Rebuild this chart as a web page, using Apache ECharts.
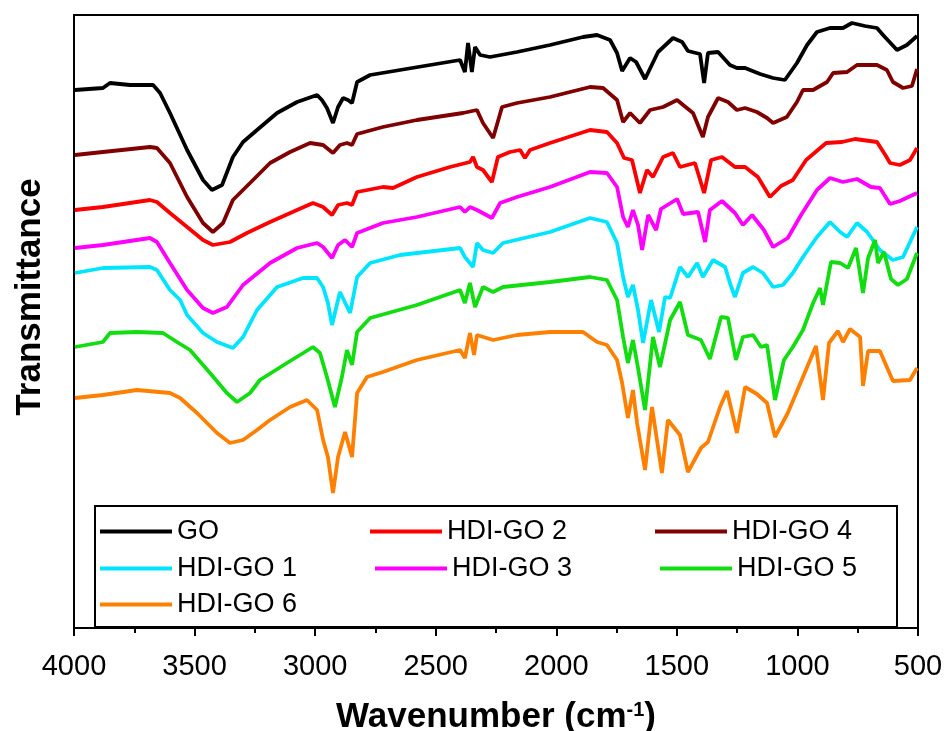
<!DOCTYPE html>
<html>
<head>
<meta charset="utf-8">
<title>FTIR spectra</title>
<script src="https://cdn.jsdelivr.net/npm/echarts@6/dist/echarts.min.js"></script>
<style>
  html, body { margin: 0; padding: 0; background: #fff; }
  #chart { width: 944px; height: 731px; }
</style>
</head>
<body>
<div id="chart"></div>
<script>
// wavenumber (cm-1), transmittance (a.u., offset curves)
const GO = [[3996,538],[3880,540],[3851,545],[3768,543],[3672,543],[3643,535],[3602,515],[3531,478],[3465,448],[3428,438],[3386,443],[3341,471],[3299,486],[3241,498],[3158,515],[3075,526],[2992,533],[2972,528],[2951,520],[2926,505],[2905,521],[2884,530],[2864,528],[2847,525],[2826,546],[2772,553],[2648,558],[2399,568],[2379,556],[2366,585],[2350,556],[2337,581],[2316,573],[2275,571],[2163,576],[2026,583],[1889,591],[1831,593],[1777,588],[1748,575],[1727,557],[1694,570],[1669,566],[1632,549],[1578,576],[1516,590],[1478,586],[1454,577],[1404,574],[1387,545],[1371,575],[1329,576],[1280,563],[1251,560],[1217,560],[1155,554],[1101,550],[1052,548],[1002,565],[960,583],[919,596],[865,600],[811,600],[774,605],[720,602],[670,600],[645,593],[587,578],[546,583],[504,592]];
const HDIGO2 = [[3996,418],[3880,421],[3685,428],[3656,426],[3602,415],[3531,401],[3465,388],[3424,383],[3353,386],[3283,395],[3187,406],[3075,418],[3009,425],[2967,421],[2930,413],[2905,423],[2868,425],[2847,423],[2826,436],[2719,441],[2677,440],[2578,451],[2441,461],[2358,466],[2345,471],[2329,461],[2304,458],[2267,446],[2242,471],[2192,476],[2150,478],[2130,470],[2109,478],[2026,485],[1860,498],[1790,496],[1748,485],[1719,470],[1686,468],[1653,435],[1624,458],[1599,451],[1557,471],[1516,475],[1487,461],[1425,465],[1387,435],[1358,468],[1313,471],[1259,461],[1217,461],[1164,451],[1114,431],[1068,442],[1019,448],[964,468],[881,485],[815,486],[761,489],[670,486],[633,472],[616,465],[575,463],[533,468],[504,480]];
const HDIGO4 = [[3996,473],[3880,476],[3685,481],[3656,480],[3602,465],[3531,431],[3465,405],[3424,396],[3382,405],[3341,428],[3270,445],[3187,465],[3104,476],[3021,485],[2967,483],[2926,475],[2897,483],[2868,485],[2847,483],[2826,494],[2719,501],[2578,508],[2387,515],[2329,518],[2304,505],[2262,490],[2225,521],[2163,525],[2026,531],[1860,541],[1806,540],[1748,528],[1723,506],[1694,515],[1653,505],[1611,518],[1557,521],[1499,528],[1474,523],[1433,515],[1392,491],[1371,511],[1329,530],[1288,526],[1251,518],[1217,520],[1168,516],[1126,510],[1101,505],[1044,511],[1002,526],[977,538],[935,538],[877,546],[852,555],[794,556],[753,563],[670,563],[629,558],[604,546],[562,540],[525,542],[504,559]];
const HDIGO1 = [[3996,355],[3880,360],[3685,361],[3656,358],[3602,338],[3560,328],[3531,313],[3465,295],[3407,286],[3341,280],[3299,291],[3241,318],[3158,341],[3050,350],[2992,350],[2967,341],[2947,325],[2930,303],[2897,336],[2855,315],[2826,351],[2772,365],[2648,373],[2399,380],[2379,371],[2345,361],[2329,385],[2304,378],[2262,375],[2221,385],[2026,396],[1860,410],[1790,406],[1748,385],[1723,351],[1703,331],[1682,343],[1661,318],[1640,285],[1607,328],[1574,296],[1549,331],[1528,330],[1487,361],[1454,351],[1416,365],[1392,351],[1350,368],[1300,361],[1280,345],[1259,331],[1226,355],[1184,361],[1143,355],[1101,341],[1060,343],[1019,355],[977,371],[919,391],[865,406],[823,396],[794,391],[753,405],[711,396],[658,378],[604,368],[562,371],[504,401]];
const HDIGO3 = [[3996,380],[3880,383],[3685,390],[3656,386],[3602,365],[3531,338],[3465,320],[3424,315],[3366,321],[3299,343],[3187,365],[3075,380],[2992,385],[2967,381],[2930,370],[2905,383],[2876,388],[2847,381],[2826,395],[2719,405],[2578,411],[2399,421],[2379,416],[2358,421],[2329,418],[2267,410],[2233,425],[2163,431],[2026,441],[1860,456],[1790,455],[1748,441],[1723,411],[1703,401],[1682,418],[1661,403],[1644,378],[1619,413],[1586,398],[1566,419],[1499,429],[1474,414],[1412,416],[1383,386],[1363,418],[1313,427],[1259,415],[1226,403],[1188,413],[1139,398],[1101,381],[1040,390],[985,413],[919,438],[865,450],[811,446],[753,449],[695,441],[658,440],[616,424],[575,427],[504,435]];
const HDIGO5 = [[3996,281],[3880,286],[3851,295],[3739,296],[3631,295],[3573,286],[3519,278],[3436,255],[3366,235],[3324,226],[3270,235],[3229,248],[3117,265],[3009,281],[2980,275],[2951,251],[2918,221],[2889,251],[2868,278],[2847,263],[2826,296],[2772,310],[2578,323],[2399,338],[2379,325],[2358,345],[2337,321],[2304,341],[2262,336],[2221,341],[2026,346],[1860,351],[1790,348],[1748,328],[1723,291],[1703,265],[1682,288],[1661,260],[1632,218],[1599,291],[1570,261],[1528,308],[1487,326],[1454,293],[1400,288],[1363,269],[1317,311],[1288,310],[1255,268],[1226,291],[1184,293],[1151,281],[1126,283],[1093,228],[1056,268],[1019,281],[977,298],[935,325],[906,340],[894,323],[861,366],[823,365],[790,360],[757,380],[728,335],[707,370],[678,388],[666,365],[641,376],[612,349],[583,343],[546,349],[504,375]];
const HDIGO6 = [[3996,230],[3880,233],[3739,238],[3602,235],[3560,230],[3490,215],[3407,195],[3353,185],[3299,188],[3241,198],[3187,208],[3104,221],[3034,228],[2992,218],[2967,188],[2947,171],[2926,135],[2905,171],[2876,196],[2847,171],[2826,235],[2785,251],[2719,256],[2578,268],[2399,278],[2379,270],[2358,295],[2341,273],[2329,293],[2262,288],[2163,293],[2026,296],[1889,296],[1831,286],[1790,283],[1748,268],[1727,245],[1703,210],[1682,238],[1665,205],[1632,158],[1603,221],[1562,155],[1537,208],[1487,193],[1454,156],[1400,180],[1371,186],[1321,221],[1292,237],[1251,195],[1217,241],[1168,234],[1126,225],[1093,191],[1040,215],[977,251],[923,282],[894,228],[869,285],[832,297],[811,286],[782,299],[740,291],[728,242],[707,277],[658,277],[604,247],[533,248],[504,260]];

const names = ['GO', 'HDI-GO 2', 'HDI-GO 4', 'HDI-GO 1', 'HDI-GO 3', 'HDI-GO 5', 'HDI-GO 6'];
const curves = [GO, HDIGO2, HDIGO4, HDIGO1, HDIGO3, HDIGO5, HDIGO6];
const colors = ['#000000', '#ff0000', '#800000', '#00e5ff', '#ff00ff', '#11dd11', '#ff8000'];

const FONT = 'Liberation Sans, Arial, sans-serif';

// legend slots inside the boxed legend (3 columns)
const legendPos = [
  { left: 100, top: 518 }, { left: 370, top: 518 }, { left: 655, top: 518 },
  { left: 100, top: 555 }, { left: 375, top: 555 }, { left: 660, top: 555 },
  { left: 100, top: 591 }
];

const chart = echarts.init(document.getElementById('chart'));

chart.setOption({
  animation: false,
  backgroundColor: '#fff',
  grid: {
    left: 74, right: 26, top: 15, bottom: 103,
    outerBoundsMode: 'none',
    containLabel: false,
    show: true, borderColor: '#000', borderWidth: 2
  },
  legend: names.map((n, i) => ({
    data: [n],
    left: legendPos[i].left,
    top: legendPos[i].top,
    padding: 0,
    icon: 'rect',
    itemWidth: 72,
    itemHeight: 4,
    selectedMode: false,
    z: 20,
    textStyle: { fontSize: 27, color: '#000', fontFamily: FONT }
  })),
  xAxis: {
    type: 'value',
    inverse: true,
    min: 500,
    max: 4000,
    interval: 500,
    name: 'Wavenumber (cm{sup|-1})',
    nameLocation: 'middle',
    nameGap: 72,
    nameTextStyle: {
      fontSize: 35, fontWeight: 'bold', color: '#000', fontFamily: FONT,
      rich: { sup: { fontSize: 20, fontWeight: 'bold', verticalAlign: 'top', padding: [0, 0, 14, 0] } }
    },
    axisLine: { show: true, lineStyle: { color: '#000', width: 2 } },
    axisTick: { show: true, length: 8, lineStyle: { color: '#000', width: 2 } },
    minorTick: { show: true, splitNumber: 2, length: 5, lineStyle: { color: '#000', width: 2 } },
    axisLabel: {
      fontSize: 29, color: '#000', fontFamily: FONT, margin: 24,
      showMinLabel: true, showMaxLabel: true,
      formatter: v => String(v)
    },
    splitLine: { show: false }
  },
  yAxis: {
    type: 'value',
    min: 0,
    max: 613,
    axisLine: { show: true, lineStyle: { color: '#000', width: 2 } },
    axisTick: { show: false },
    axisLabel: { show: false },
    splitLine: { show: false }
  },
  graphic: [
    {
      type: 'rect',
      shape: { x: 95, y: 506, width: 802, height: 121 },
      style: { fill: 'none', stroke: '#000', lineWidth: 2 },
      z: 1
    },
    {
      type: 'text',
      x: 30, y: 297,
      rotation: Math.PI / 2,
      style: {
        text: 'Transmittance',
        fontSize: 35, fontWeight: 'bold', fill: '#000', fontFamily: FONT,
        align: 'center', verticalAlign: 'middle'
      },
      z: 50
    }
  ],
  series: curves.map((c, i) => ({
    name: names[i],
    type: 'line',
    data: c,
    showSymbol: false,
    symbol: 'none',
    color: colors[i],
    lineStyle: { color: colors[i], width: 3.8 },
    z: 2 + i
  }))
});
</script>
</body>
</html>
